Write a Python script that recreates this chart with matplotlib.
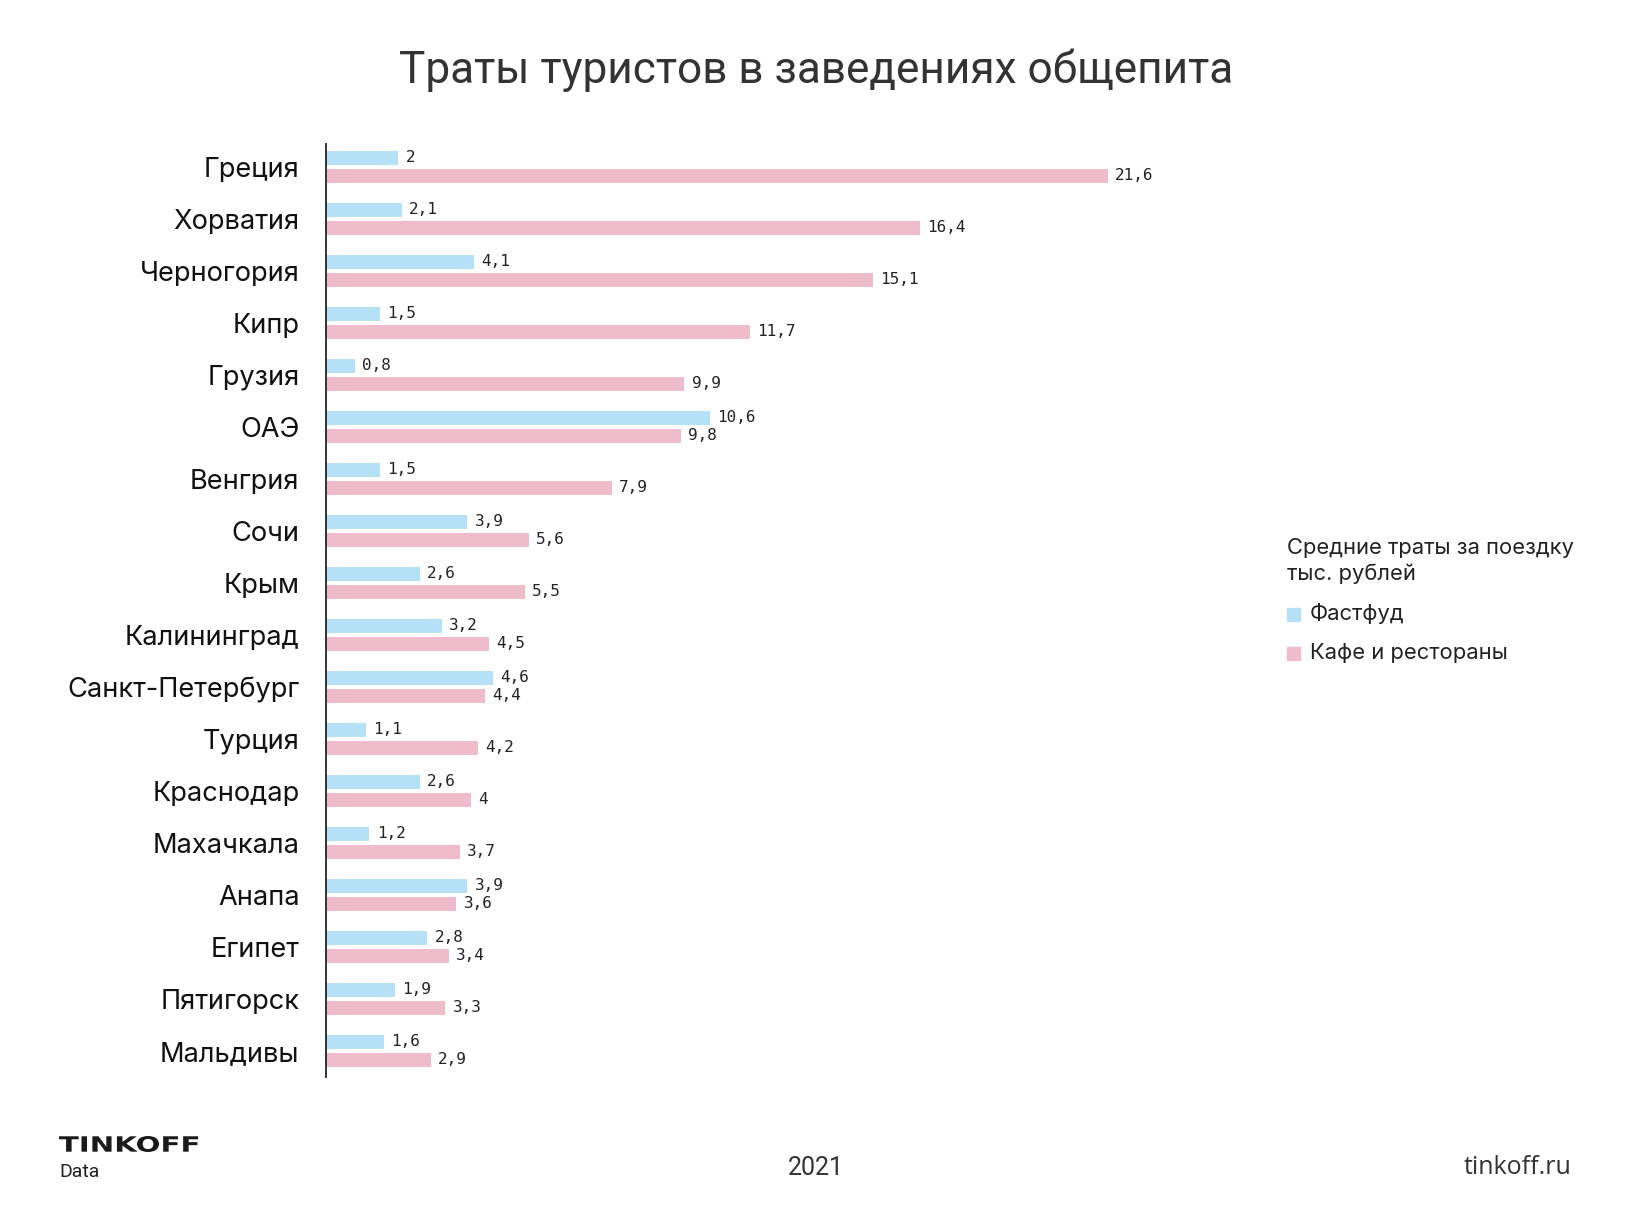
import matplotlib.pyplot as plt
from matplotlib.patches import Rectangle, PathPatch
from matplotlib.textpath import TextPath
from matplotlib.font_manager import FontProperties
from matplotlib.transforms import Affine2D, IdentityTransform
import numpy as np

# data (thousand rubles per trip)
places = ['Греция', 'Хорватия', 'Черногория', 'Кипр', 'Грузия', 'ОАЭ', 'Венгрия',
          'Сочи', 'Крым', 'Калининград', 'Санкт-Петербург', 'Турция', 'Краснодар',
          'Махачкала', 'Анапа', 'Египет', 'Пятигорск', 'Мальдивы']
fastfood = [2, 2.1, 4.1, 1.5, 0.8, 10.6, 1.5, 3.9, 2.6, 3.2, 4.6, 1.1, 2.6, 1.2,
            3.9, 2.8, 1.9, 1.6]
cafes = [21.6, 16.4, 15.1, 11.7, 9.9, 9.8, 7.9, 5.6, 5.5, 4.5, 4.4, 4.2, 4,
         3.7, 3.6, 3.4, 3.3, 2.9]
series_names = ['Фастфуд', 'Кафе и рестораны']
legend_title = 'Средние траты за поездку\nтыс. рублей'

BLUE = '#b5e1f7'
PINK = '#efbccc'
TEXT = '#222222'

plt.rcParams['font.family'] = ['Roboto', 'DejaVu Sans']


def fmt(v):
    s = f'{v:g}'
    return s.replace('.', ',')


def draw_logo(fig, x0, y_top, width, height):
    """Wide bold wordmark, stretched to the given pixel box"""
    path = TextPath((0, 0), 'TINKOFF', size=50,
                    prop=FontProperties(family='DejaVu Sans', weight='bold'))
    ext = path.get_extents()
    H = fig.bbox.height
    tr = (Affine2D().translate(-ext.x0, -ext.y0)
          .scale(width / ext.width, height / ext.height)
          .translate(x0, H - y_top - height))
    fig.add_artist(PathPatch(path, transform=tr + IdentityTransform(),
                             color='#1a1a1a', lw=0))


def main():
    W, H = 1632, 1219
    fig = plt.figure(figsize=(W / 100, H / 100), dpi=100)
    ax = fig.add_axes([326 / W, 1 - 1077 / H, 874 / W, (1077 - 144) / H])

    y = np.arange(len(places))
    off, h = 0.173, 0.27
    ax.barh(y - off, fastfood, height=h, color=BLUE)
    ax.barh(y + off, cafes, height=h, color=PINK)

    for yi, v in zip(y, fastfood):
        ax.text(v + 0.2, yi - off, fmt(v), va='center', ha='left', fontsize=11.5,
                color=TEXT, family='DejaVu Sans Mono')
    for yi, v in zip(y, cafes):
        ax.text(v + 0.2, yi + off, fmt(v), va='center', ha='left', fontsize=11.5,
                color=TEXT, family='DejaVu Sans Mono')

    ax.set_xlim(0, 874 / 36.2)
    ax.set_ylim(len(places) - 0.5, -0.44)
    ax.set_yticks(y)
    ax.set_yticklabels(places, fontsize=19.6, color='#111111', family='Inter')
    ax.tick_params(axis='y', length=0, pad=19)
    ax.set_xticks([])
    for side in ['top', 'right', 'bottom']:
        ax.spines[side].set_visible(False)
    ax.spines['left'].set_color('#333333')
    ax.spines['left'].set_linewidth(1.4)

    fig.text(816 / W, 1 - 70 / H, 'Траты туристов в заведениях общепита',
             ha='center', va='center', fontsize=31.8, color='#333333')

    # legend block, drawn by hand to match the placement
    fig.text(1287 / W, 1 - 561 / H, legend_title, ha='left', va='center',
             fontsize=15.8, color=TEXT, linespacing=1.35, family='Inter')
    sq = 13
    for name, color, yc in zip(series_names, [BLUE, PINK], [614, 653]):
        fig.add_artist(Rectangle((1287 / W, 1 - (yc + sq / 2) / H), sq / W, sq / H,
                                 transform=fig.transFigure, color=color))
        fig.text(1310 / W, 1 - yc / H, name, ha='left', va='center',
                 fontsize=15.8, color=TEXT, family='Inter')

    # footer
    draw_logo(fig, 59, 1136, 139, 16)
    fig.text(59 / W, 1 - 1172 / H, 'Data', ha='left', va='center',
             fontsize=14, color='#222222')
    fig.text(816 / W, 1 - 1168 / H, '2021', ha='center', va='center',
             fontsize=18, color='#333333')
    fig.text(1572 / W, 1 - 1168 / H, 'tinkoff.ru', ha='right', va='center',
             fontsize=18, color='#333333', family='Open Sans')

    fig.savefig('out.png', dpi=100, facecolor='white')
    plt.close(fig)


if __name__ == '__main__':
    main()
